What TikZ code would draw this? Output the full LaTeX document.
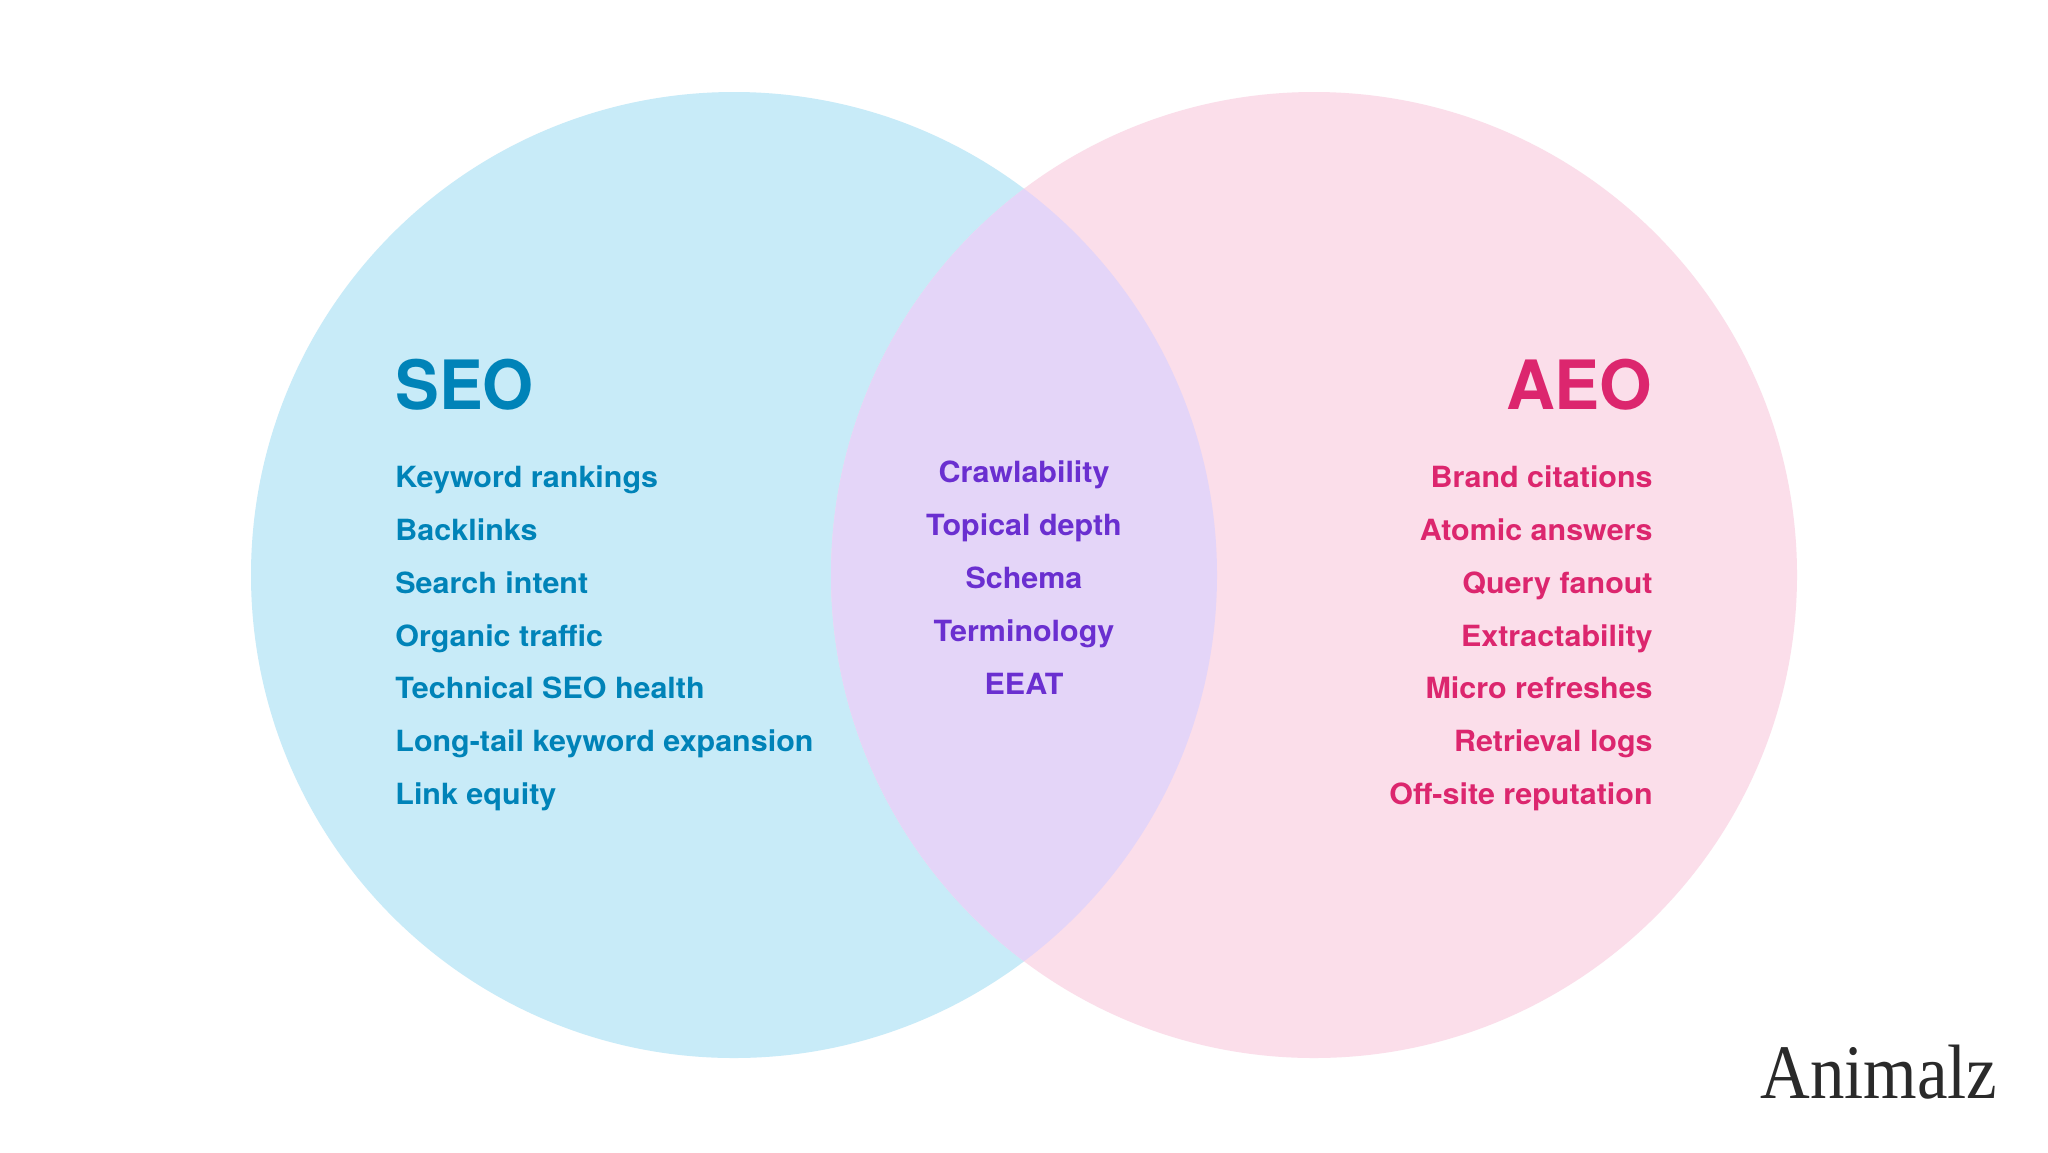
\documentclass[tikz,border=0pt]{standalone}
\usepackage{fontspec}
\setmainfont{TeX Gyre Heros}
\newfontfamily\logofont{Liberation Serif}
\newfontfamily\itemfont[FakeStretch=1.043]{TeX Gyre Heros}
\newfontfamily\titlefont[FakeStretch=0.965]{TeX Gyre Heros}
\newfontfamily\aeotitlefont[FakeStretch=0.995]{TeX Gyre Heros}
\definecolor{seoC}{HTML}{0083B8}
\definecolor{aeoC}{HTML}{DC266E}
\definecolor{midC}{HTML}{6A2FD0}
\definecolor{seoF}{HTML}{C8EBF8}
\definecolor{aeoF}{HTML}{FBDEEA}
\definecolor{midF}{HTML}{E4D5F8}
\definecolor{logoC}{HTML}{2A2A2A}
\tikzset{
  x=0.5pt,y=-0.5pt,
  lab/.style={inner sep=0pt,anchor=base west},
  seotitle/.style={lab,text=seoC,font=\titlefont\fontsize{34}{34}\selectfont\bfseries},
  aeotitle/.style={lab,anchor=base east,text=aeoC,font=\aeotitlefont\fontsize{34}{34}\selectfont\bfseries},
  seoitem/.style={lab,text=seoC,font=\itemfont\fontsize{14.6}{16}\selectfont\bfseries},
  aeoitem/.style={lab,anchor=base east,text=aeoC,font=\itemfont\fontsize{14.6}{16}\selectfont\bfseries},
  miditem/.style={lab,anchor=base,text=midC,font=\itemfont\fontsize{14.6}{16}\selectfont\bfseries},
}
\begin{document}
\begin{tikzpicture}
\useasboundingbox (0,0) rectangle (2048,1152);
\fill[white] (0,0) rectangle (2048,1152);
\fill[seoF] (734,575) circle[radius=483];
\fill[aeoF] (1314,575) circle[radius=483];
\begin{scope}
\clip (734,575) circle[radius=483];
\fill[midF] (1314,575) circle[radius=483];
\end{scope}
\node[seotitle] (seo) at (395,409) {SEO};
\node[seoitem] (s1) at (395,487) {Keyword rankings};
\node[seoitem] (s2) at (395,540) {Backlinks};
\node[seoitem] (s3) at (395,593) {Search intent};
\node[seoitem] (s4) at (395,646) {Organic traffic};
\node[seoitem] (s5) at (395,698) {Technical SEO health};
\node[seoitem] (s6) at (395,751) {Long-tail keyword expansion};
\node[seoitem] (s7) at (395,804) {Link equity};
\node[aeotitle] (aeo) at (1653,409) {AEO};
\node[aeoitem] (a1) at (1653,487) {Brand citations};
\node[aeoitem] (a2) at (1653,540) {Atomic answers};
\node[aeoitem] (a3) at (1653,593) {Query fanout};
\node[aeoitem] (a4) at (1653,646) {Extractability};
\node[aeoitem] (a5) at (1653,698) {Micro refreshes};
\node[aeoitem] (a6) at (1653,751) {Retrieval logs};
\node[aeoitem] (a7) at (1653,804) {Off-site reputation};
\node[miditem] (m1) at (1024,482) {Crawlability};
\node[miditem] (m2) at (1024,535) {Topical depth};
\node[miditem] (m3) at (1024,588) {Schema};
\node[miditem] (m4) at (1024,641) {Terminology};
\node[miditem] (m5) at (1024,694) {EEAT};
\node[lab,text=logoC] (logo) at (1760,1098) {\scalebox{1}[1.12]{\resizebox{118.5pt}{!}{\logofont Animalz}}};
\end{tikzpicture}
\end{document}
